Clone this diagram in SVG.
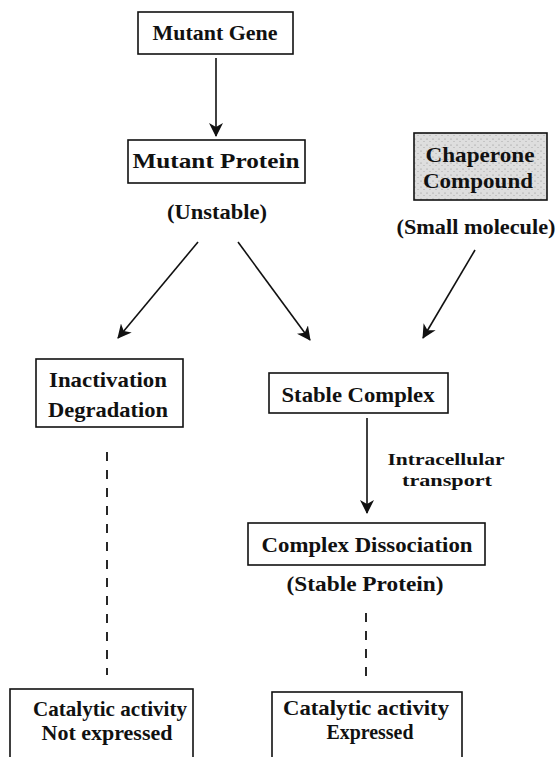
<svg xmlns="http://www.w3.org/2000/svg" width="559" height="757" viewBox="0 0 559 757">
<style>
.box{fill:#fff;stroke:#111;stroke-width:1.6}
.grey{fill:url(#stipple);stroke:#111;stroke-width:1.6}
.t{font-family:"Liberation Serif","Times New Roman",serif;font-weight:bold;font-size:21px;fill:#111;text-anchor:middle}
.s{font-family:"Liberation Serif","Times New Roman",serif;font-weight:bold;font-size:17px;fill:#111;text-anchor:middle}
.arr{stroke:#111;stroke-width:1.6;fill:none;marker-end:url(#ah)}
.dash{stroke:#111;stroke-width:1.8;fill:none;stroke-dasharray:9 9}
</style>
<defs>
<marker id="ah" viewBox="0 0 14 14" refX="13" refY="7" markerWidth="14" markerHeight="14" markerUnits="userSpaceOnUse" orient="auto">
<path d="M0,0 L14,7 L0,14 L4,7 z" fill="#111"/>
</marker>
<pattern id="stipple" width="6" height="6" patternUnits="userSpaceOnUse">
<rect width="6" height="6" fill="#dedede"/>
<circle cx="1" cy="1" r="0.6" fill="#888"/>
<circle cx="4" cy="3.5" r="0.5" fill="#999"/>
</pattern>
</defs>
<g id="connectors">
<line class="arr" x1="216" y1="58" x2="216" y2="136"/>
<line class="arr" x1="198" y1="242" x2="118" y2="338"/>
<line class="arr" x1="238" y1="242" x2="310" y2="340"/>
<line class="arr" x1="475" y1="250" x2="423" y2="338"/>
<line class="arr" x1="367" y1="418" x2="367" y2="513"/>
<line class="dash" x1="107" y1="452" x2="107" y2="675"/>
<line class="dash" x1="366" y1="613" x2="366" y2="680"/>
<text class="s" x="446" y="465" textLength="117" lengthAdjust="spacingAndGlyphs">Intracellular</text>
<text class="s" x="447" y="486" textLength="90" lengthAdjust="spacingAndGlyphs">transport</text>
</g>
<g id="mutant-gene">
<rect class="box" x="138" y="12" width="155" height="42"/>
<text class="t" x="215" y="40" textLength="125" lengthAdjust="spacingAndGlyphs">Mutant Gene</text>
</g>
<g id="mutant-protein">
<rect class="box" x="128" y="140" width="177" height="43"/>
<text class="t" x="216" y="168" textLength="167" lengthAdjust="spacingAndGlyphs">Mutant Protein</text>
<text class="t" x="217" y="219" textLength="100" lengthAdjust="spacingAndGlyphs">(Unstable)</text>
</g>
<g id="chaperone">
<rect class="grey" x="414" y="133" width="133" height="67"/>
<text class="t" x="480" y="162" textLength="109" lengthAdjust="spacingAndGlyphs">Chaperone</text>
<text class="t" x="478" y="188" textLength="110" lengthAdjust="spacingAndGlyphs">Compound</text>
<text class="t" x="476" y="234" textLength="159" lengthAdjust="spacingAndGlyphs">(Small molecule)</text>
</g>
<g id="inactivation">
<rect class="box" x="36" y="359" width="147" height="68"/>
<text class="t" x="108" y="387" textLength="118" lengthAdjust="spacingAndGlyphs">Inactivation</text>
<text class="t" x="108" y="417" textLength="120" lengthAdjust="spacingAndGlyphs">Degradation</text>
</g>
<g id="stable-complex">
<rect class="box" x="269" y="373" width="179" height="40"/>
<text class="t" x="358" y="402" textLength="153" lengthAdjust="spacingAndGlyphs">Stable Complex</text>
</g>
<g id="complex-dissociation">
<rect class="box" x="248" y="523" width="237" height="42"/>
<text class="t" x="367" y="552" textLength="211" lengthAdjust="spacingAndGlyphs">Complex Dissociation</text>
<text class="t" x="365" y="591" textLength="157" lengthAdjust="spacingAndGlyphs">(Stable Protein)</text>
</g>
<g id="not-expressed">
<rect class="box" x="10" y="689" width="183" height="80"/>
<text class="t" x="110" y="716" textLength="154" lengthAdjust="spacingAndGlyphs">Catalytic activity</text>
<text class="t" x="107" y="740" textLength="131" lengthAdjust="spacingAndGlyphs">Not expressed</text>
</g>
<g id="expressed">
<rect class="box" x="272" y="692" width="190" height="80"/>
<text class="t" x="366" y="715" textLength="166" lengthAdjust="spacingAndGlyphs">Catalytic activity</text>
<text class="t" x="370" y="739" textLength="87" lengthAdjust="spacingAndGlyphs">Expressed</text>
</g>
</svg>
